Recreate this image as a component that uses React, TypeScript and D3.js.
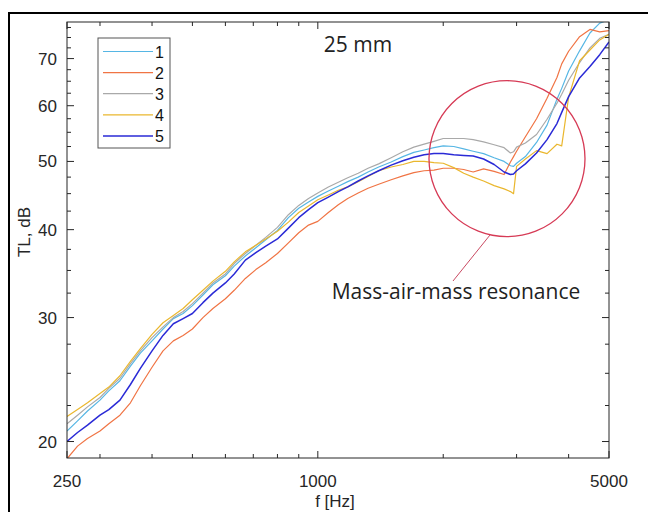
import React from "react";
import * as d3 from "d3";

const freqs = [250, 265, 280, 300, 315, 335, 355, 375, 400, 425, 450, 475, 500, 530, 560, 600, 630, 670, 710, 750, 800, 850, 900, 950, 1000, 1060, 1120, 1180, 1250, 1320, 1400, 1500, 1600, 1700, 1800, 1900, 2000, 2120, 2240, 2360, 2500, 2650, 2800, 2900, 2950, 3000, 3150, 3350, 3550, 3750, 3850, 4000, 4250, 4500, 4750, 5000];

const s1 = [20.7, 21.4, 22.1, 22.9, 23.6, 24.4, 25.6, 26.7, 27.8, 28.9, 29.9, 30.4, 31.2, 32.3, 33.4, 34.4, 35.5, 36.7, 37.7, 38.7, 39.9, 41.6, 42.9, 43.8, 44.6, 45.4, 46.1, 46.8, 47.5, 48.3, 49.1, 49.9, 50.8, 51.5, 51.9, 52.3, 52.6, 52.5, 52.1, 51.7, 51.3, 50.6, 50.0, 49.3, 49.2, 49.7, 50.8, 53.2, 56.3, 61.3, 63.5, 67.2, 71.8, 76.1, 78.6, 79.5];
const s2 = [18.9, 19.7, 20.2, 20.7, 21.2, 21.8, 22.7, 24.0, 25.5, 26.9, 27.8, 28.3, 28.9, 30.0, 30.9, 31.9, 32.8, 34.1, 35.1, 35.9, 37.0, 38.3, 39.6, 40.6, 41.1, 42.3, 43.4, 44.3, 45.1, 45.8, 46.4, 47.1, 47.7, 48.2, 48.5, 48.6, 48.9, 48.9, 48.7, 48.3, 48.8, 48.4, 47.9, 49.9, 50.8, 51.7, 54.2, 57.5, 61.5, 65.8, 68.8, 71.7, 75.2, 77.0, 76.4, 76.7];
const s3 = [21.2, 21.8, 22.4, 23.1, 23.8, 24.6, 25.8, 26.9, 28.1, 29.1, 30.0, 30.6, 31.4, 32.5, 33.6, 34.6, 35.8, 37.0, 38.0, 39.0, 40.3, 42.0, 43.3, 44.3, 45.1, 46.0, 46.7, 47.4, 48.1, 48.9, 49.6, 50.6, 51.6, 52.4, 52.9, 53.4, 53.9, 53.9, 53.9, 53.7, 53.3, 52.8, 52.3, 51.4, 51.6, 52.4, 53.1, 54.6, 57.4, 60.5, 62.3, 65.2, 69.1, 72.5, 74.8, 75.8];
const s4 = [21.7, 22.2, 22.7, 23.4, 23.9, 24.8, 26.0, 27.1, 28.4, 29.5, 30.2, 30.9, 31.8, 32.8, 33.8, 34.9, 36.0, 37.2, 38.0, 38.8, 39.8, 41.0, 42.3, 43.2, 44.1, 44.8, 45.5, 46.0, 46.8, 47.6, 48.5, 49.1, 49.5, 50.0, 50.0, 49.8, 49.7, 49.0, 48.1, 47.5, 46.9, 46.2, 45.7, 45.3, 45.0, 49.2, 50.4, 51.8, 51.3, 52.9, 52.6, 61.7, 69.5, 72.0, 74.4, 75.8];
const s5 = [20.0, 20.6, 21.1, 21.8, 22.2, 22.9, 24.1, 25.4, 26.9, 28.3, 29.4, 29.9, 30.4, 31.5, 32.5, 33.6, 34.6, 36.2, 37.1, 37.9, 38.8, 40.2, 41.6, 42.7, 43.7, 44.5, 45.3, 46.0, 46.9, 47.7, 48.5, 49.4, 50.1, 50.7, 51.1, 51.3, 51.3, 51.1, 51.0, 50.9, 50.4, 49.5, 48.3, 47.9, 48.0, 48.5, 49.6, 51.4, 53.7, 56.6, 58.7, 61.8, 65.7, 68.2, 70.9, 73.9];

const seriesNames = ["1", "2", "3", "4", "5"];
const seriesValues = [s1, s2, s3, s4, s5];
const seriesColors = ["#56b6e4", "#f07444", "#a9a9a9", "#eab72e", "#2a2ad6"];

const xMajorTicks = [250, 1000, 5000];
const xMinorTicks = [300, 400, 500, 600, 700, 800, 900, 2000, 3000, 4000];
const yMajorTicks = [20, 30, 40, 50, 60, 70];
const yMinorTicks = [22.5, 25, 27.5, 32.5, 35, 37.5, 42.5, 45, 47.5, 52.5, 55, 57.5, 62.5, 65, 67.5, 72.5, 75, 77.5];

const title = "25 mm";
const annotation = "Mass-air-mass resonance";

export default function App() {
  const W = 648, H = 512;
  const L = 67, R = 609, T = 22, B = 458;
  const x = d3.scaleLog().domain([250, 5000]).range([L, R]);
  const y = d3.scaleLog().domain([18.95, 78.9]).range([B, T]);
  const line = d3.line<number>().x((_, i) => x(freqs[i])).y((d) => y(d));
  const axisColor = "#262626";
  const tickFont = "'Liberation Sans', Arial, sans-serif";
  const noteFont = "'Open Sans', 'Noto Sans', sans-serif";

  return (
    <svg width={W} height={H} style={{ position: "absolute", left: 0, top: 0, background: "#fff" }}>
      <defs>
        <clipPath id="plotclip">
          <rect x={L} y={T} width={R - L} height={B - T} />
        </clipPath>
      </defs>
      <rect x={0} y={0} width={W} height={H} fill="#fff" />
      <rect x={9} y={13} width={W + 20} height={H + 20} fill="none" stroke="#000" strokeWidth={2} />

      <g clipPath="url(#plotclip)">
        {seriesValues.map((vals, k) => (
          <path key={k} d={line(vals) || ""} fill="none" stroke={seriesColors[k]} strokeWidth={k === 4 ? 1.5 : 1.2} strokeLinejoin="round" />
        ))}
      </g>

      <rect x={L} y={T} width={R - L} height={B - T} fill="none" stroke={axisColor} strokeWidth={1} />

      {xMajorTicks.map((t) => (
        <g key={"xM" + t}>
          <line x1={x(t)} x2={x(t)} y1={B} y2={B - 7} stroke={axisColor} />
          <line x1={x(t)} x2={x(t)} y1={T} y2={T + 7} stroke={axisColor} />
          <text x={x(t)} y={487} textAnchor="middle" fontFamily={tickFont} fontSize={17} fill={axisColor}>{t}</text>
        </g>
      ))}
      {xMinorTicks.map((t) => (
        <g key={"xm" + t}>
          <line x1={x(t)} x2={x(t)} y1={B} y2={B - 4} stroke={axisColor} />
          <line x1={x(t)} x2={x(t)} y1={T} y2={T + 4} stroke={axisColor} />
        </g>
      ))}
      {yMajorTicks.map((t) => (
        <g key={"yM" + t}>
          <line x1={L} x2={L + 7} y1={y(t)} y2={y(t)} stroke={axisColor} />
          <line x1={R} x2={R - 7} y1={y(t)} y2={y(t)} stroke={axisColor} />
          <text x={57} y={y(t) + 6} textAnchor="end" fontFamily={tickFont} fontSize={17} fill={axisColor}>{t}</text>
        </g>
      ))}
      {yMinorTicks.map((t) => (
        <g key={"ym" + t}>
          <line x1={L} x2={L + 4} y1={y(t)} y2={y(t)} stroke={axisColor} />
          <line x1={R} x2={R - 4} y1={y(t)} y2={y(t)} stroke={axisColor} />
        </g>
      ))}

      <text x={335} y={507} textAnchor="middle" fontFamily={tickFont} fontSize={17} fill={axisColor}>f [Hz]</text>
      <text transform="translate(30,232) rotate(-90)" textAnchor="middle" fontFamily={tickFont} fontSize={17} fill={axisColor}>TL, dB</text>

      <rect x={98} y={38} width={72} height={110} fill="#fff" stroke="#555" strokeWidth={1} />
      {seriesNames.map((n, k) => {
        const yy = 51.5 + k * 21.1;
        return (
          <g key={"lg" + n}>
            <line x1={103} x2={153} y1={yy} y2={yy} stroke={seriesColors[k]} strokeWidth={k === 4 ? 1.5 : 1.2} />
            <text x={155} y={yy + 6} fontFamily={tickFont} fontSize={16} fill="#111">{n}</text>
          </g>
        );
      })}

      <text x={358} y={52} textAnchor="middle" fontFamily={noteFont} fontSize={21} fill="#222">{title}</text>

      <circle cx={507} cy={158.7} r={78} fill="none" stroke="#d63a55" strokeWidth={1.3} />
      <line x1={490} y1={235} x2={453} y2={281} stroke="#c94a62" strokeWidth={1} />
      <text x={456} y={299} textAnchor="middle" fontFamily={noteFont} fontSize={21} fill="#222">{annotation}</text>
    </svg>
  );
}
